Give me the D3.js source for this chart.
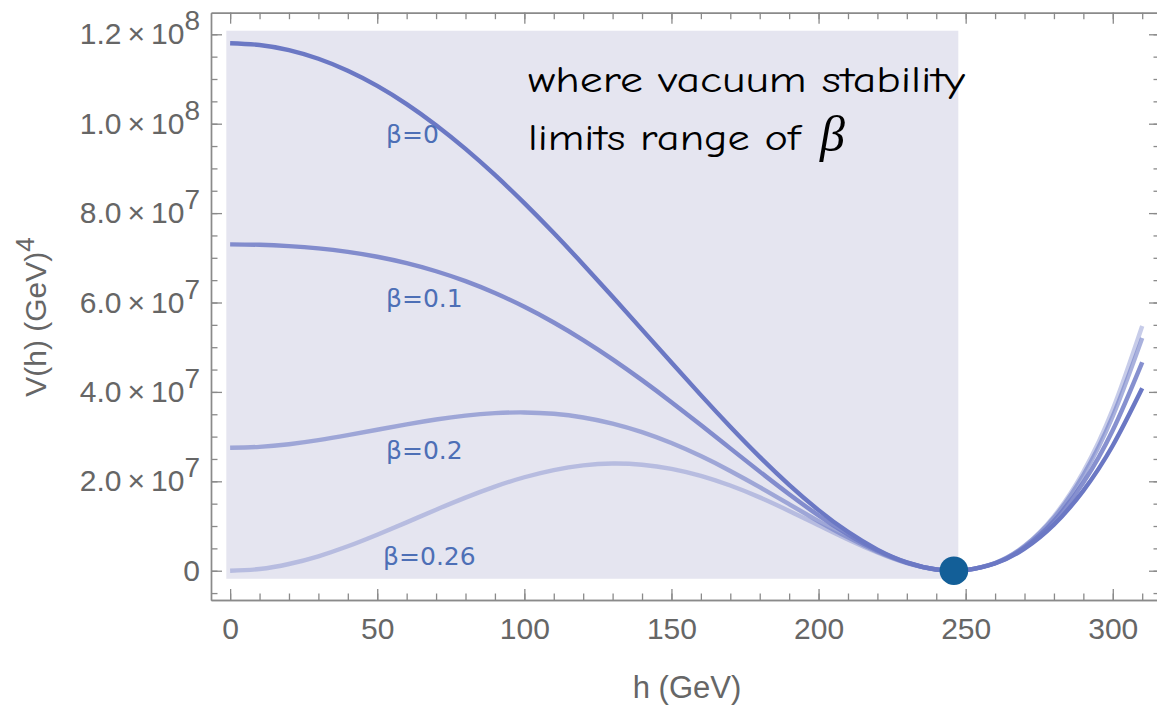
<!DOCTYPE html>
<html>
<head>
<meta charset="utf-8">
<script src="https://cdn.jsdelivr.net/npm/d3@7"></script>
<style>
  html, body { margin: 0; padding: 0; background: #ffffff; }
  svg { display: block; }
</style>
</head>
<body>
<svg id="chart" width="1157" height="706"></svg>
<script>
// ---------- data (V in units of 10^6 GeV^4) ----------
const hValues = [0,10,20,30,40,50,60,70,80,90,100,110,120,130,140,150,160,170,180,190,200,210,220,230,240,246,250,260,270,280,290,300,310];
const vBeta0   = [118,117.61,116.45,114.52,111.84,108.45,104.38,99.66,94.36,88.53,82.22,75.53,68.52,61.30,53.94,46.57,39.28,32.21,25.47,19.21,13.56,8.68,4.73,1.87,0.27,0,0.13,1.62,4.94,10.31,17.92,28.01,40.80];
const vBeta01  = [73,72.91,72.62,72.11,71.32,70.24,68.80,66.99,64.77,62.12,59.04,55.53,51.59,47.29,42.64,37.71,32.59,27.37,22.17,17.11,12.36,8.10,4.51,1.82,0.27,0,0.13,1.68,5.23,11.13,19.73,31.43,46.63];
const vBeta02  = [27.5,27.71,28.30,29.20,30.32,31.53,32.74,33.83,34.70,35.25,35.41,35.10,34.28,32.91,31.00,28.56,25.64,22.32,18.69,14.88,11.07,7.45,4.25,1.76,0.27,0,0.13,1.73,5.48,11.86,21.38,34.58,52.06];
const vBeta026 = [0,0.38,1.50,3.23,5.46,8.05,10.82,13.64,16.35,18.82,20.91,22.52,23.56,23.97,23.72,22.80,21.22,19.06,16.41,13.38,10.17,6.98,4.06,1.70,0.26,0,0.13,1.74,5.57,12.18,22.14,36.10,54.75];

const seriesNames  = ["β=0", "β=0.1", "β=0.2", "β=0.26"];
const labelPosH    = [53, 53, 53, 52];          // h where each label starts
const labelPosV    = [95.6, 58.9, 25.0, 1.2];   // V (10^6) of each label baseline

const vevH = 246;            // minimum (dot)
const shadeH = [-1.3, 247.5];
const shadeV = [-1.8, 120.8];

const xMajorTicks = [0,50,100,150,200,250,300];
const xMinorTicks = d3.range(0, 311, 10);
const yMajorTicks = [0,20,40,60,80,100,120];
const yTickMantissa = ["0","2.0","4.0","6.0","8.0","1.0","1.2"];
const yTickExponent = ["","7","7","7","7","8","8"];
const yMinorTicks = d3.range(-5, 125, 5);

const annotationLines = ["where vacuum stability", "limits range of "];
const annotationSymbol = "β";

// ---------- layout ----------
const svg = d3.select("#chart");
const frameL = 211, frameR = 1160, frameT = 12.7, frameB = 600;

const x = d3.scaleLinear().domain([-6.5, 316.05]).range([frameL, frameR]);
const y = d3.scaleLinear().domain([-6.55, 124.83]).range([frameB, frameT]);

const axisColor = "#8a8a8a";
const textGray = "#666666";
const tickFont = "'Liberation Sans', Arial, sans-serif";

// shaded region
svg.append("rect")
  .attr("x", x(shadeH[0])).attr("y", y(shadeV[1]))
  .attr("width", x(shadeH[1]) - x(shadeH[0]))
  .attr("height", y(shadeV[0]) - y(shadeV[1]))
  .attr("fill", "#e5e5f0");

// curves
const series = [vBeta026, vBeta02, vBeta01, vBeta0];
const opac = [0.38, 0.58, 0.82, 1.0];
const line = d3.line().x((d,i) => x(hValues[i])).y(d => y(d)).curve(d3.curveNatural);
series.forEach((s, k) => {
  svg.append("path").datum(s)
    .attr("d", line)
    .attr("fill", "none")
    .attr("stroke", "#6b78c4")
    .attr("stroke-opacity", opac[k])
    .attr("stroke-width", 4.4)
    .attr("stroke-linecap", "butt");
});

// dot
svg.append("circle").attr("cx", x(vevH)).attr("cy", y(0)).attr("r", 14.3).attr("fill", "#135f98");

// labels
seriesNames.forEach((n, i) => {
  svg.append("text")
    .attr("x", x(labelPosH[i])).attr("y", y(labelPosV[i]))
    .attr("font-family", "'DejaVu Sans', sans-serif")
    .attr("font-size", 25)
    .attr("fill", "#4d6fb6")
    .text(n);
});

// annotation
const ann = svg.append("g").attr("font-family", "'Comic Sans MS', 'Comic Neue', Lato, sans-serif").attr("fill", "#000");
ann.append("text").attr("x", 528).attr("y", 92).attr("font-size", 36)
  .attr("textLength", 437).attr("lengthAdjust", "spacingAndGlyphs").text(annotationLines[0]);
ann.append("text").attr("x", 528).attr("y", 150).attr("font-size", 36)
  .attr("textLength", 272).attr("lengthAdjust", "spacingAndGlyphs").text(annotationLines[1]);
ann.append("text").attr("x", 820).attr("y", 151).attr("font-size", 50)
  .attr("font-family", "'Liberation Serif', 'Times New Roman', serif").attr("font-style", "italic")
  .text(annotationSymbol);

// ---------- axes / frame ----------
function styleAxis(g) {
  g.selectAll("path.domain").attr("stroke", axisColor).attr("stroke-width", 1.4);
  g.selectAll(".tick line").attr("stroke", axisColor).attr("stroke-width", 1.3);
}

// bottom
const gxMinor = svg.append("g").attr("transform", `translate(0,${frameB})`)
  .call(d3.axisBottom(x).tickValues(xMinorTicks).tickSize(-6.5).tickSizeOuter(0).tickFormat(""));
styleAxis(gxMinor);
const gx = svg.append("g").attr("transform", `translate(0,${frameB})`)
  .call(d3.axisBottom(x).tickValues(xMajorTicks).tickSize(-11).tickSizeOuter(0).tickPadding(17.5).tickFormat(d3.format("d")));
styleAxis(gx);
gx.selectAll(".tick text").attr("font-family", tickFont).attr("font-size", 30).attr("fill", textGray);

// top
const gtMinor = svg.append("g").attr("transform", `translate(0,${frameT})`)
  .call(d3.axisTop(x).tickValues(xMinorTicks).tickSize(-6.5).tickSizeOuter(0).tickFormat(""));
styleAxis(gtMinor);
const gt = svg.append("g").attr("transform", `translate(0,${frameT})`)
  .call(d3.axisTop(x).tickValues(xMajorTicks).tickSize(-11).tickSizeOuter(0).tickFormat(""));
styleAxis(gt);

// left
const gyMinor = svg.append("g").attr("transform", `translate(${frameL},0)`)
  .call(d3.axisLeft(y).tickValues(yMinorTicks).tickSize(-6.5).tickSizeOuter(0).tickFormat(""));
styleAxis(gyMinor);
const gy = svg.append("g").attr("transform", `translate(${frameL},0)`)
  .call(d3.axisLeft(y).tickValues(yMajorTicks).tickSize(-11).tickSizeOuter(0).tickPadding(11).tickFormat(""));
styleAxis(gy);
gy.selectAll(".tick text").each(function(d, i) {
  const t = d3.select(this)
    .attr("font-family", tickFont).attr("font-size", 30).attr("fill", textGray);
  if (yTickExponent[i] === "") {
    t.text(yTickMantissa[i]);
  } else {
    t.append("tspan").text(yTickMantissa[i] + "\u2009×\u200910");
    t.append("tspan").attr("dy", "-0.5em").attr("font-size", 28).text(yTickExponent[i]);
  }
});

// right
const grMinor = svg.append("g").attr("transform", `translate(${frameR},0)`)
  .call(d3.axisRight(y).tickValues(yMinorTicks).tickSize(-6.5).tickSizeOuter(0).tickFormat(""));
styleAxis(grMinor);
const gr = svg.append("g").attr("transform", `translate(${frameR},0)`)
  .call(d3.axisRight(y).tickValues(yMajorTicks).tickSize(-11).tickSizeOuter(0).tickFormat(""));
styleAxis(gr);

// axis titles
svg.append("text")
  .attr("x", 687).attr("y", 698)
  .attr("text-anchor", "middle")
  .attr("font-family", tickFont).attr("font-size", 31).attr("fill", textGray)
  .text("h (GeV)");

const yt = svg.append("text")
  .attr("transform", "translate(46,317) rotate(-90)")
  .attr("text-anchor", "middle")
  .attr("font-family", tickFont).attr("font-size", 30).attr("fill", textGray);
yt.append("tspan").text("V(h) (GeV)");
yt.append("tspan").attr("dy", "-0.45em").attr("font-size", 26).text("4");
</script>
</body>
</html>
